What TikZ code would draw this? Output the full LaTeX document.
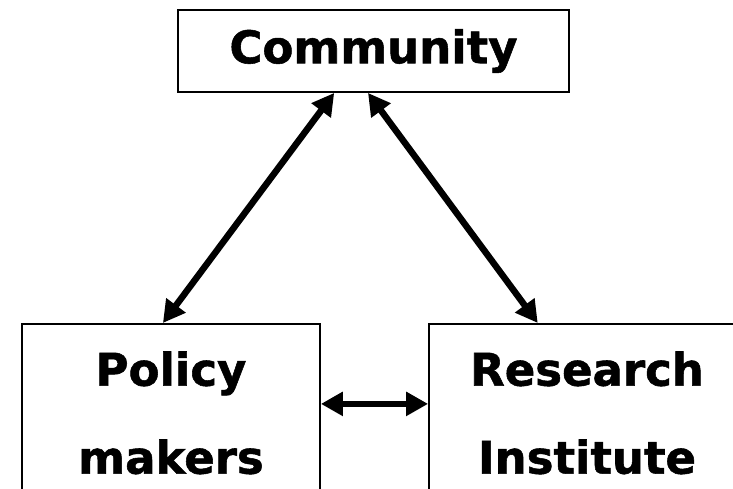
\documentclass[tikz,border=0pt]{standalone}
\usepackage{fontspec}
\setmainfont{DejaVu Sans}[BoldFeatures={FakeBold=1.2}]
\usepackage{tikz}
\usetikzlibrary{arrows.meta, positioning, calc}
\tikzset{
    entity/.style={rectangle, draw, line width=1.8pt, align=center, font=\fontsize{45pt}{88pt}\selectfont\bfseries},
    link/.style={line width=6.5pt, {Triangle[length=22pt,width=23pt]}-{Triangle[length=22pt,width=23pt]}}
}
\begin{document}
\begin{tikzpicture}[x=1pt, y=1pt]
    \useasboundingbox (0,0) rectangle (733,-489);

    % Top
    \node[entity, minimum width=391pt, minimum height=82pt] (community) at (373.5,-51) {Community};

    % Bottom row
    \node[entity, anchor=north, minimum width=298pt, minimum height=178pt] (policy) at (171,-323) {Policy\\makers};
    \node[entity, anchor=north, minimum width=316pt, minimum height=178pt] (research) at (587,-323) {Research\\Institute};

    % Links
    \draw[link] ($(community.south west)!0.40!(community.south east)$) -- ($(policy.north west)!0.473!(policy.north east)$);
    \draw[link] ($(community.south west)!0.486!(community.south east)$) -- ($(research.north west)!0.345!(research.north east)$);
    \draw[link] ([yshift=9pt]policy.east) -- ([yshift=9pt]research.west);

\end{tikzpicture}
\end{document}
